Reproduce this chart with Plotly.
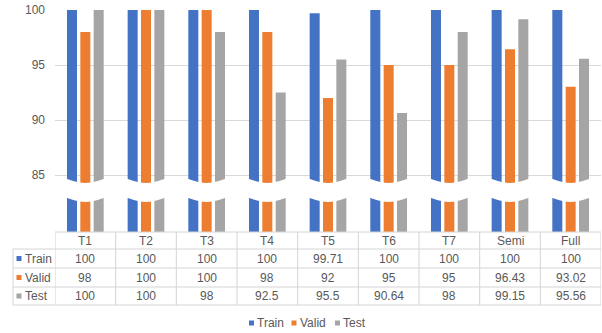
import numpy as np
import plotly.graph_objects as go

# ---- data ----
categories = ["T1", "T2", "T3", "T4", "T5", "T6", "T7", "Semi", "Full"]
train = [100, 100, 100, 100, 99.71, 100, 100, 100, 100]
valid = [98, 100, 100, 98, 92, 95, 95, 96.43, 93.02]
test = [100, 100, 98, 92.5, 95.5, 90.64, 98, 99.15, 95.56]
series_names = ["Train", "Valid", "Test"]
series_colors = ["#4472C4", "#ED7D31", "#A5A5A5"]
y_ticks = [85, 90, 95, 100]

series_values = [train, valid, test]

# ---- page geometry (pixels) ----
W, H = 602, 333
ML, MR, MT, MB = 55, 1, 10, 101
PLOT_W = W - ML - MR
PLOT_H = H - MT - MB
PLOT_BOTTOM = H - MB

TEXT = "#595959"
GRID = "#d9d9d9"
TABLE_LINE = "#d4d4d4"
FONT = "Liberation Sans"
FS = 12

# 11 px per unit on the upper axis; 85 sits at pixel row 175
PX_PER_UNIT = 11.0
Y_TOP = 100.0
Y_BOTTOM = 85 - (PLOT_BOTTOM - 175) / PX_PER_UNIT


def paper_y(row):
    return (PLOT_BOTTOM - row) / PLOT_H


def paper_x(col):
    return (col - ML) / PLOT_W


def row_to_data(row):
    return 85 - (row - 175) / PX_PER_UNIT


fig = go.Figure()
xpos = list(range(len(categories)))
for name, vals, col in zip(series_names, series_values, series_colors):
    fig.add_trace(go.Bar(x=xpos, y=vals, name=name, marker_color=col,
                         marker_line_width=0, showlegend=False,
                         hovertemplate="%{y}<extra>" + name + "</extra>"))

shapes = []
annotations = []

# ---- wavy axis break across the bars ----
xs = np.linspace(-0.5, len(categories) - 0.5, 20 * len(categories) + 1)
upper = [row_to_data(180 + 3 * np.cos(2 * np.pi * x)) for x in xs]
lower = [row_to_data(199 + 3 * np.cos(2 * np.pi * x)) for x in xs]
pts = [f"{x:.4f},{y:.4f}" for x, y in zip(xs, upper)]
pts += [f"{x:.4f},{y:.4f}" for x, y in zip(xs[::-1], lower[::-1])]
shapes.append(dict(type="path", xref="x", yref="y", layer="above",
                   path="M" + " L".join(pts) + " Z",
                   fillcolor="white", line=dict(width=0)))

# ---- data table under the plot ----
row_edges = [232, 249, 268, 287, 305]
left_col = 13
shapes.append(dict(type="line", xref="paper", yref="paper",
                   x0=0, x1=1, y0=paper_y(row_edges[0]), y1=paper_y(row_edges[0]),
                   line=dict(color=TABLE_LINE, width=1)))
for r in row_edges[1:]:
    shapes.append(dict(type="line", xref="paper", yref="paper",
                       x0=paper_x(left_col), x1=1, y0=paper_y(r), y1=paper_y(r),
                       line=dict(color=TABLE_LINE, width=1)))
shapes.append(dict(type="line", xref="paper", yref="paper",
                   x0=paper_x(left_col), x1=paper_x(left_col),
                   y0=paper_y(row_edges[1]), y1=paper_y(row_edges[-1]),
                   line=dict(color=TABLE_LINE, width=1)))
for i in range(len(categories) + 1):
    shapes.append(dict(type="line", xref="x", yref="paper",
                       x0=i - 0.5, x1=i - 0.5,
                       y0=paper_y(row_edges[0]), y1=paper_y(row_edges[-1]),
                       line=dict(color=TABLE_LINE, width=1)))

font = dict(family=FONT, size=FS, color=TEXT)
header_mid = (row_edges[0] + row_edges[1]) / 2
for i, c in enumerate(categories):
    annotations.append(dict(x=i, y=paper_y(header_mid), xref="x", yref="paper",
                            text=c, showarrow=False, font=font,
                            xanchor="center", yanchor="middle"))


def swatch(x_left, y_mid, color, label):
    shapes.append(dict(type="rect", xref="paper", yref="paper",
                       x0=paper_x(x_left), x1=paper_x(x_left + 5),
                       y0=paper_y(y_mid + 2.5), y1=paper_y(y_mid - 2.5),
                       fillcolor=color, line=dict(width=0)))
    annotations.append(dict(x=paper_x(x_left + 6), y=paper_y(y_mid), xref="paper",
                            yref="paper", text=label, showarrow=False, font=font,
                            xanchor="left", yanchor="middle"))


for k, (name, vals, col) in enumerate(zip(series_names, series_values, series_colors)):
    mid = (row_edges[k + 1] + row_edges[k + 2]) / 2
    swatch(16.5, mid, col, name)
    for i, v in enumerate(vals):
        annotations.append(dict(x=i, y=paper_y(mid), xref="x", yref="paper",
                                text=f"{v:g}", showarrow=False, font=font,
                                xanchor="center", yanchor="middle"))

# ---- legend row ----
for name, col, x_left in zip(series_names, series_colors, [249, 291.5, 335]):
    swatch(x_left, 323, col, name)

fig.update_layout(
    width=W, height=H,
    margin=dict(l=ML, r=MR, t=MT, b=MB, pad=0),
    paper_bgcolor="white", plot_bgcolor="white",
    barmode="group", bargap=0.34, bargroupgap=0.25,
    shapes=shapes, annotations=annotations,
    showlegend=False,
    xaxis=dict(range=[-0.5, len(categories) - 0.5], showticklabels=False,
               showgrid=False, zeroline=False, showline=False, ticks=""),
    yaxis=dict(range=[Y_BOTTOM, Y_TOP], tickvals=y_ticks, showgrid=True,
               gridcolor=GRID, gridwidth=1, zeroline=False, showline=False,
               ticks="", ticklabelstandoff=9,
               tickfont=dict(family=FONT, size=FS, color=TEXT)),
    font=dict(family=FONT, color=TEXT),
)

fig.write_html("out.html")
